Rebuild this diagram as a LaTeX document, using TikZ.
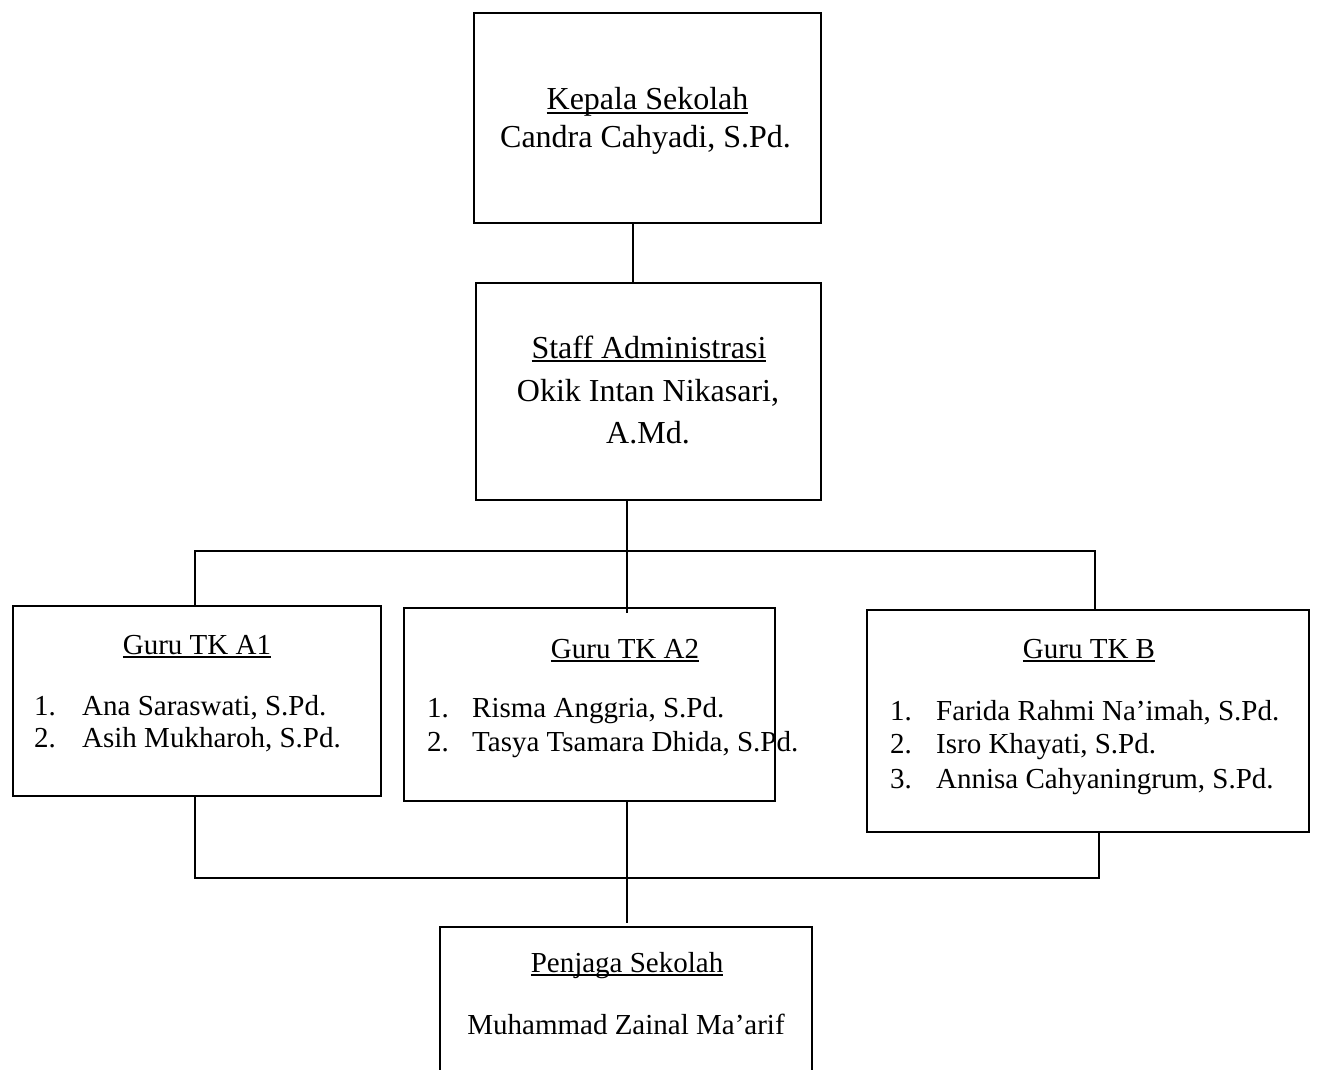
\documentclass[tikz,border=0pt]{standalone}
\usepackage{fontspec}
\setmainfont{Liberation Serif}
\newcommand\myul[1]{\setbox0\hbox{#1}\rlap{\vrule height -0.07em depth 0.135em width \wd0}\box0}
\begin{document}
\begin{tikzpicture}[x=1pt,y=-1pt,
  box/.style={draw, line width=2.2pt, inner sep=0pt},
  conn/.style={line width=1.3pt},
  big/.style={font=\fontsize{32}{37}\selectfont, inner sep=0pt},
  small/.style={font=\fontsize{29}{33}\selectfont, inner sep=0pt}]
\useasboundingbox (0,0) rectangle (1320,1070);
\clip (0,0) rectangle (1320,1070);

% boxes
\node[box, minimum width=347pt, minimum height=210pt] (kepala) at (647.5,118) {};
\node[box, minimum width=345pt, minimum height=217pt] (staff) at (648.5,391.5) {};
\node[box, minimum width=368pt, minimum height=190pt] (a1) at (197,701) {};
\node[box, minimum width=371pt, minimum height=193pt] (a2) at (589.5,704.5) {};
\node[box, minimum width=442pt, minimum height=222pt] (tkb) at (1088,721) {};
\node[box, minimum width=372pt, minimum height=250pt] (penjaga) at (626,1052) {};

% texts
\node[big, anchor=base] (kt1) at (647.5,110) {\myul{Kepala Sekolah}};
\node[big, anchor=base] (kt2) at (645.5,148) {Candra Cahyadi, S.Pd.};

\node[big, anchor=base] (st1) at (649,358) {\myul{Staff Administrasi}};
\node[big, anchor=base] (st2) at (648,401) {Okik Intan Nikasari,};
\node[big, anchor=base] (st3) at (648,443) {A.Md.};

\node[small, anchor=base] (a1t) at (197,654) {\myul{Guru TK A1}};
\node[small, anchor=base west] (a1n1) at (34,715) {1.};
\node[small, anchor=base west] (a1i1) at (82,715) {Ana Saraswati, S.Pd.};
\node[small, anchor=base west] (a1n2) at (34,747) {2.};
\node[small, anchor=base west] (a1i2) at (82,747) {Asih Mukharoh, S.Pd.};

\node[small, anchor=base] (a2t) at (625,658) {\myul{Guru TK A2}};
\node[small, anchor=base west] (a2n1) at (427,717) {1.};
\node[small, anchor=base west] (a2i1) at (472,717) {Risma Anggria, S.Pd.};
\node[small, anchor=base west] (a2n2) at (427,751) {2.};
\node[small, anchor=base west] (a2i2) at (472,751) {Tasya Tsamara Dhida, S.Pd.};

\node[small, anchor=base] (bt) at (1089,658) {\myul{Guru TK B}};
\node[small, anchor=base west] (bn1) at (890,720) {1.};
\node[small, anchor=base west] (bi1) at (936,720) {Farida Rahmi Na'imah, S.Pd.};
\node[small, anchor=base west] (bn2) at (890,753) {2.};
\node[small, anchor=base west] (bi2) at (936,753) {Isro Khayati, S.Pd.};
\node[small, anchor=base west] (bn3) at (890,788) {3.};
\node[small, anchor=base west] (bi3) at (936,788) {Annisa Cahyaningrum, S.Pd.};

\node[small, anchor=base] (pt1) at (627,972) {\myul{Penjaga Sekolah}};
\node[small, anchor=base] (pt2) at (626,1034) {Muhammad Zainal Ma'arif};

% connectors
\coordinate (x1) at (633,0);
\draw[conn] (kepala.south -| x1) -- (staff.north -| x1);
\coordinate (x2) at (627,0);
\coordinate (stafftail) at (627,613);
\draw[conn] (staff.south -| x2) -- (stafftail);
\coordinate (busL) at (195,551);
\coordinate (busR) at (1095,551);
\draw[conn] (a1.north -| busL) -- (busL) -- (busR) -- (tkb.north -| busR);
\coordinate (botL) at (195,878);
\coordinate (botR) at (1099,878);
\draw[conn] (a1.south -| botL) -- (botL) -- (botR) -- (tkb.south -| botR);
\coordinate (x3) at (627,0);
\coordinate (a2tail) at (627,923);
\draw[conn] (a2.south -| x3) -- (a2tail);
\end{tikzpicture}
\end{document}
